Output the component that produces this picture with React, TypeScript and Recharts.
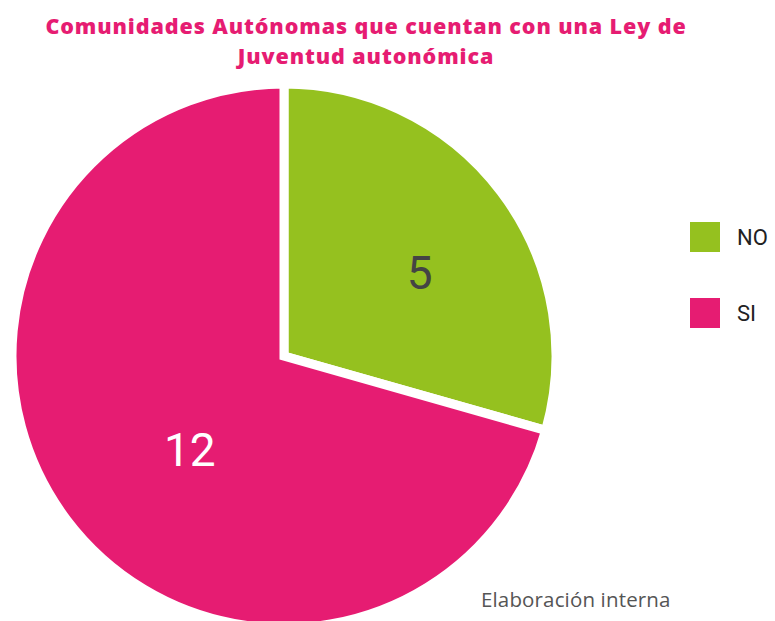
import { Cell, Legend, Pie, PieChart } from "recharts";

const categories = ["NO", "SI"];
const counts = [5, 12];
const COLORS = ["#95c11f", "#e61c72"];

const data = categories.map((label, i) => ({ label, value: counts[i] }));

const RAD = Math.PI / 180;
// the source places the numbers a bit off the slice bisector
const LABEL_RADIUS = [0.585, 0.49];
const LABEL_TURN = [-5.5, 8];

function SliceLabel(props: any) {
  const { cx, cy, midAngle, outerRadius, value, index } = props;
  const r = outerRadius * LABEL_RADIUS[index];
  const a = (midAngle + LABEL_TURN[index]) * RAD;
  const x = cx + r * Math.cos(-a);
  const y = cy + r * Math.sin(-a);
  return (
    <text
      x={x}
      y={y}
      textAnchor="middle"
      dominantBaseline="central"
      fill={index === 0 ? "#444" : "#fff"}
      fontSize={46}
      fontFamily="Roboto, sans-serif"
    >
      {value}
    </text>
  );
}

function SideLegend() {
  return (
    <div style={{ fontFamily: "Roboto, sans-serif" }}>
      {data.map((d, i) => (
        <div
          key={d.label}
          style={{ display: "flex", alignItems: "center", height: 30, marginBottom: i === 0 ? 46 : 0 }}
        >
          <span style={{ width: 30, height: 30, background: COLORS[i], display: "inline-block" }} />
          <span style={{ marginLeft: 17, fontSize: 22, color: "#222" }}>{d.label}</span>
        </div>
      ))}
    </div>
  );
}

export default function App() {
  return (
    <div style={{ position: "absolute", left: 0, top: 0, width: 775, height: 621, background: "#fff", overflow: "hidden" }}>
      <div
        style={{
          position: "absolute",
          left: 0,
          width: 732,
          top: 11,
          textAlign: "center",
          color: "#e61c72",
          fontFamily: "'Open Sans', sans-serif",
          fontWeight: 800,
          fontSize: 21.5,
          letterSpacing: 0.9,
          lineHeight: "30px",
        }}
      >
        Comunidades Autónomas que cuentan con una Ley de
        <br />
        Juventud autonómica
      </div>
      <PieChart width={775} height={621} style={{ position: "absolute", left: 0, top: 0 }}>
        <Pie
          data={data}
          dataKey="value"
          nameKey="label"
          cx={279}
          cy={351}
          outerRadius={272}
          startAngle={90}
          endAngle={-270}
          stroke="#fff"
          strokeWidth={9}
          label={SliceLabel}
          labelLine={false}
          isAnimationActive={false}
        >
          {data.map((_, i) => (
            <Cell key={i} fill={COLORS[i]} />
          ))}
        </Pie>
        <Legend
          layout="vertical"
          align="right"
          verticalAlign="top"
          content={<SideLegend />}
          wrapperStyle={{ left: 690, top: 222, width: 85 }}
        />
      </PieChart>
      <div
        style={{
          position: "absolute",
          left: 481,
          top: 585,
          fontFamily: "'Open Sans', sans-serif",
          fontSize: 20.5,
          letterSpacing: 0.15,
          color: "#555",
        }}
      >
        Elaboración interna
      </div>
    </div>
  );
}
